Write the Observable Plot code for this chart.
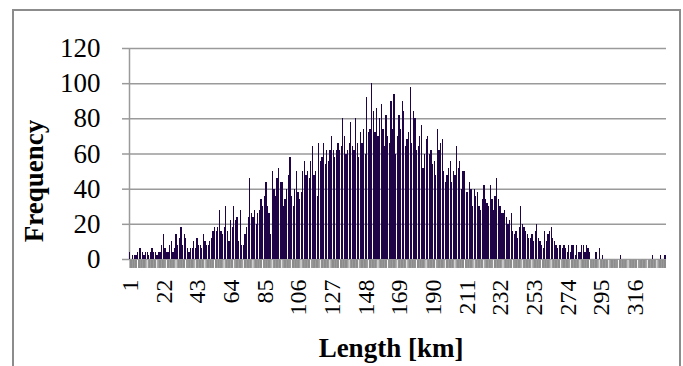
<!DOCTYPE html>
<html><head><meta charset="utf-8">
<script src="https://cdn.jsdelivr.net/npm/d3@7"></script>
<script src="https://cdn.jsdelivr.net/npm/@observablehq/plot@0.6"></script>
<style>
body{margin:0;background:#fff;}
#wrap{position:relative;width:683px;height:366px;overflow:hidden;background:#fff;}
#frame{position:absolute;left:12px;top:9px;width:669px;height:420px;border:2px solid #8c8c8c;box-sizing:border-box;}
#chart{position:absolute;left:0;top:0;}
</style></head><body>
<div id="wrap"><div id="frame"></div><div id="chart"></div></div>
<script>
const frequency = [
  4, 0, 2, 2, 2, 4, 6, 6, 4, 2,
  4, 4, 2, 4, 6, 4, 4, 2, 4, 4,
  8, 14, 6, 4, 4, 8, 10, 4, 6, 14,
  8, 12, 18, 8, 14, 12, 6, 4, 6, 6,
  10, 6, 12, 8, 8, 6, 14, 10, 8, 8,
  10, 12, 16, 18, 16, 18, 28, 16, 14, 18,
  30, 16, 10, 22, 18, 30, 22, 24, 10, 28,
  8, 8, 14, 18, 24, 46, 26, 24, 28, 20,
  26, 28, 34, 30, 36, 44, 30, 26, 14, 50,
  40, 36, 46, 52, 44, 44, 30, 34, 40, 48,
  58, 36, 30, 40, 50, 38, 34, 38, 50, 56,
  48, 50, 46, 56, 64, 48, 50, 36, 66, 56,
  58, 66, 54, 62, 56, 62, 70, 62, 58, 62,
  66, 62, 64, 80, 70, 60, 62, 66, 78, 64,
  62, 80, 66, 58, 72, 66, 74, 60, 92, 72,
  74, 100, 84, 72, 86, 70, 80, 88, 74, 64,
  82, 70, 66, 90, 74, 94, 60, 70, 82, 74,
  90, 84, 64, 68, 72, 98, 66, 84, 80, 62,
  64, 70, 76, 52, 60, 68, 70, 60, 62, 54,
  56, 48, 74, 62, 66, 68, 50, 44, 48, 52,
  56, 44, 50, 48, 64, 52, 56, 40, 50, 50,
  38, 38, 44, 40, 30, 40, 36, 38, 30, 28,
  34, 42, 34, 32, 30, 42, 34, 28, 36, 46,
  34, 30, 26, 26, 28, 24, 20, 22, 26, 16,
  14, 16, 12, 18, 30, 20, 18, 16, 14, 12,
  12, 14, 10, 16, 20, 12, 10, 8, 6, 16,
  10, 14, 16, 18, 12, 10, 8, 6, 8, 8,
  6, 8, 6, 4, 8, 4, 8, 8, 2, 8,
  4, 4, 8, 8, 4, 8, 6, 4, 0, 0,
  0, 4, 0, 6, 0, 2, 0, 0, 0, 0,
  0, 0, 0, 0, 0, 0, 2, 0, 0, 0,
  0, 0, 0, 0, 0, 0, 0, 0, 0, 0,
  0, 0, 0, 0, 0, 0, 2, 0, 0, 0,
  0, 2, 0, 0, 2
];
const categories = frequency.map((_, i) => i + 1);
const xTickLabels = [1, 22, 43, 64, 85, 106, 127, 148, 169, 190, 211, 232, 253, 274, 295, 316];
const yTicks = [0, 20, 40, 60, 80, 100, 120];
const xTitle = "Length [km]";
const yTitle = "Frequency";

const data = categories.map((c, i) => ({cat: c, freq: frequency[i]}));
const gapCats = categories.filter(c => c % 6 === 5);
const first = categories[0], last = categories[categories.length - 1];
const gridGray = "#9a9a9a";
const serif = "'Liberation Serif', 'Times New Roman', serif";

const chart = Plot.plot({
  width: 683, height: 366,
  marginLeft: 129, marginRight: 17, marginTop: 48, marginBottom: 107,
  x: {domain: [first - 0.5, last + 0.5]},
  y: {domain: [yTicks[0], yTicks[yTicks.length - 1]]},
  style: {fontFamily: serif, background: "transparent", overflow: "visible"},
  marks: [
    Plot.gridY(yTicks, {stroke: gridGray, strokeOpacity: 1, strokeWidth: 1.5}),
    Plot.axisY({ticks: yTicks, tickSize: 7, tickPadding: 22, fontSize: 27, stroke: gridGray, strokeWidth: 1.5, fill: "#000", label: null}),
    Plot.ruleX([first - 0.5], {y1: yTicks[0], y2: yTicks[yTicks.length - 1], stroke: gridGray, strokeWidth: 1.5}),
    Plot.ruleX(categories, {x: d => d, y1: -0.5, y2: -5.1, stroke: "#8c8c8c", strokeWidth: 1.8}),
    Plot.ruleX(gapCats, {x: d => d + 0.5, y1: -0.5, y2: -5.1, stroke: "#fff", strokeWidth: 1}),
    Plot.rectY(data, {x1: d => d.cat - 0.5, x2: d => d.cat + 0.5, y: "freq", fill: "#1f0447", insetRight: 0.35, shapeRendering: "crispEdges"}),
    Plot.axisX({ticks: xTickLabels, tickSize: 0, tickRotate: -90, tickPadding: 20, fontSize: 24, fill: "#000", label: null}),
    Plot.text([xTitle], {frameAnchor: "bottom", dx: -7, dy: 97, lineAnchor: "bottom", fontSize: 27, fontWeight: "bold", fill: "#000"}),
    Plot.text([yTitle], {frameAnchor: "left", textAnchor: "middle", lineAnchor: "middle", rotate: -90, dx: -95, dy: 27, fontSize: 27, fontWeight: "bold", fill: "#000"})
  ]
});
document.getElementById("chart").appendChild(chart);
</script>
</body></html>
